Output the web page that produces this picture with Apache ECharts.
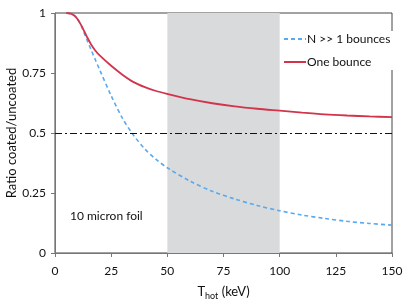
<!DOCTYPE html>
<html>
<head>
<meta charset="utf-8">
<script src="https://cdn.jsdelivr.net/npm/echarts@6/dist/echarts.min.js"></script>
<style>html,body{margin:0;padding:0;background:#fff}#c{width:409px;height:306px}</style>
</head>
<body>
<div id="c"></div>
<script>
const xVals = [5, 6, 7, 8, 9, 10, 11, 12, 13, 14, 16, 18, 20, 25, 30, 35, 40, 45, 50, 60, 70, 80, 90, 100, 110, 120, 130, 140, 150];
const oneBounce = [1.0, 0.999, 0.997, 0.993, 0.986, 0.975, 0.96, 0.943, 0.924, 0.905, 0.87, 0.843, 0.822, 0.78, 0.743, 0.712, 0.691, 0.675, 0.663, 0.641, 0.624, 0.611, 0.601, 0.593, 0.585, 0.578, 0.573, 0.569, 0.566];
const manyBounces = [1.0, 0.999, 0.997, 0.993, 0.986, 0.975, 0.96, 0.94, 0.916, 0.893, 0.848, 0.804, 0.761, 0.655, 0.562, 0.49, 0.433, 0.39, 0.355, 0.30, 0.257, 0.225, 0.198, 0.176, 0.158, 0.144, 0.132, 0.123, 0.116];
const shadeRange = [50, 100];
const refLevel = 0.5;
const yTicks = {0: '0', 0.25: '0.25', 0.5: '0.5', 0.75: '0.75', 1: '1'};
const seriesNames = ['N >> 1 bounces', 'One bounce'];
const annotation = '10 micron foil';

const font = 'Lato, "Open Sans", sans-serif';
const chart = echarts.init(document.getElementById('c'), null, {renderer: 'canvas'});
chart.setOption({
  animation: false,
  textStyle: {fontFamily: font},
  grid: {left: 55, right: 17, top: 13, bottom: 53, containLabel: false, outerBoundsMode: 'none', show: true, borderColor: '#444', borderWidth: 1, backgroundColor: 'transparent'},
  legend: {
    orient: 'vertical', left: 283, top: 31, itemGap: 11, itemWidth: 22, itemHeight: 10,
    backgroundColor: '#fff', padding: [2, 4, 2, 0],
    itemStyle: {opacity: 0},
    textStyle: {fontFamily: font, fontSize: 12, color: '#111', padding: [0, 0, 0, -4]},
    data: seriesNames
  },
  xAxis: {
    type: 'value', min: 0, max: 150, interval: 25,
    name: 'T{sub|hot} (keV)', nameLocation: 'middle', nameGap: 39, nameMoveOverlap: false,
    nameTextStyle: {fontFamily: font, fontSize: 13, color: '#111', verticalAlign: 'middle', rich: {sub: {fontSize: 9, verticalAlign: 'bottom', padding: [8, 0, 0, 0], fontFamily: font, color: '#111'}}},
    axisLine: {lineStyle: {color: '#777', width: 1}},
    axisTick: {show: true, length: 4, lineStyle: {color: '#777'}},
    axisLabel: {fontSize: 12, color: '#111', margin: 12},
    splitLine: {show: false}
  },
  yAxis: {
    type: 'value', min: 0, max: 1, interval: 0.25,
    name: 'Ratio coated/uncoated', nameLocation: 'middle', nameGap: 43, nameMoveOverlap: false,
    nameTextStyle: {fontFamily: font, fontSize: 13, color: '#111', verticalAlign: 'middle'},
    axisLine: {show: true, lineStyle: {color: '#777', width: 1}},
    axisTick: {show: true, length: 4, lineStyle: {color: '#777'}},
    axisLabel: {fontSize: 12, color: '#111', margin: 9, formatter: v => yTicks[v] !== undefined ? yTicks[v] : ''},
    splitLine: {show: false}
  },
  graphic: [{
    type: 'text', left: 70, top: 210,
    style: {text: annotation, fontFamily: font, fontSize: 12, fill: '#111'}
  }],
  series: [
    {
      name: seriesNames[0], type: 'line', smooth: 0.3, symbol: 'none', z: 3,
      data: xVals.map((x, i) => [x, manyBounces[i]]),
      lineStyle: {color: '#5aa9ef', width: 1.6, type: [4, 3]},
      itemStyle: {color: '#5aa9ef'},
      markArea: {silent: true, itemStyle: {color: '#d8dadb'}, data: [[{xAxis: shadeRange[0]}, {xAxis: shadeRange[1]}]]},
      markLine: {silent: true, symbol: 'none', label: {show: false},
        lineStyle: {color: '#111', width: 1.2, type: [7, 3, 2, 3]},
        data: [{yAxis: refLevel}]}
    },
    {
      name: seriesNames[1], type: 'line', smooth: 0.3, symbol: 'none', z: 4,
      data: xVals.map((x, i) => [x, oneBounce[i]]),
      lineStyle: {color: '#d2344c', width: 1.8},
      itemStyle: {color: '#d2344c'}
    }
  ]
});
</script>
</body>
</html>
